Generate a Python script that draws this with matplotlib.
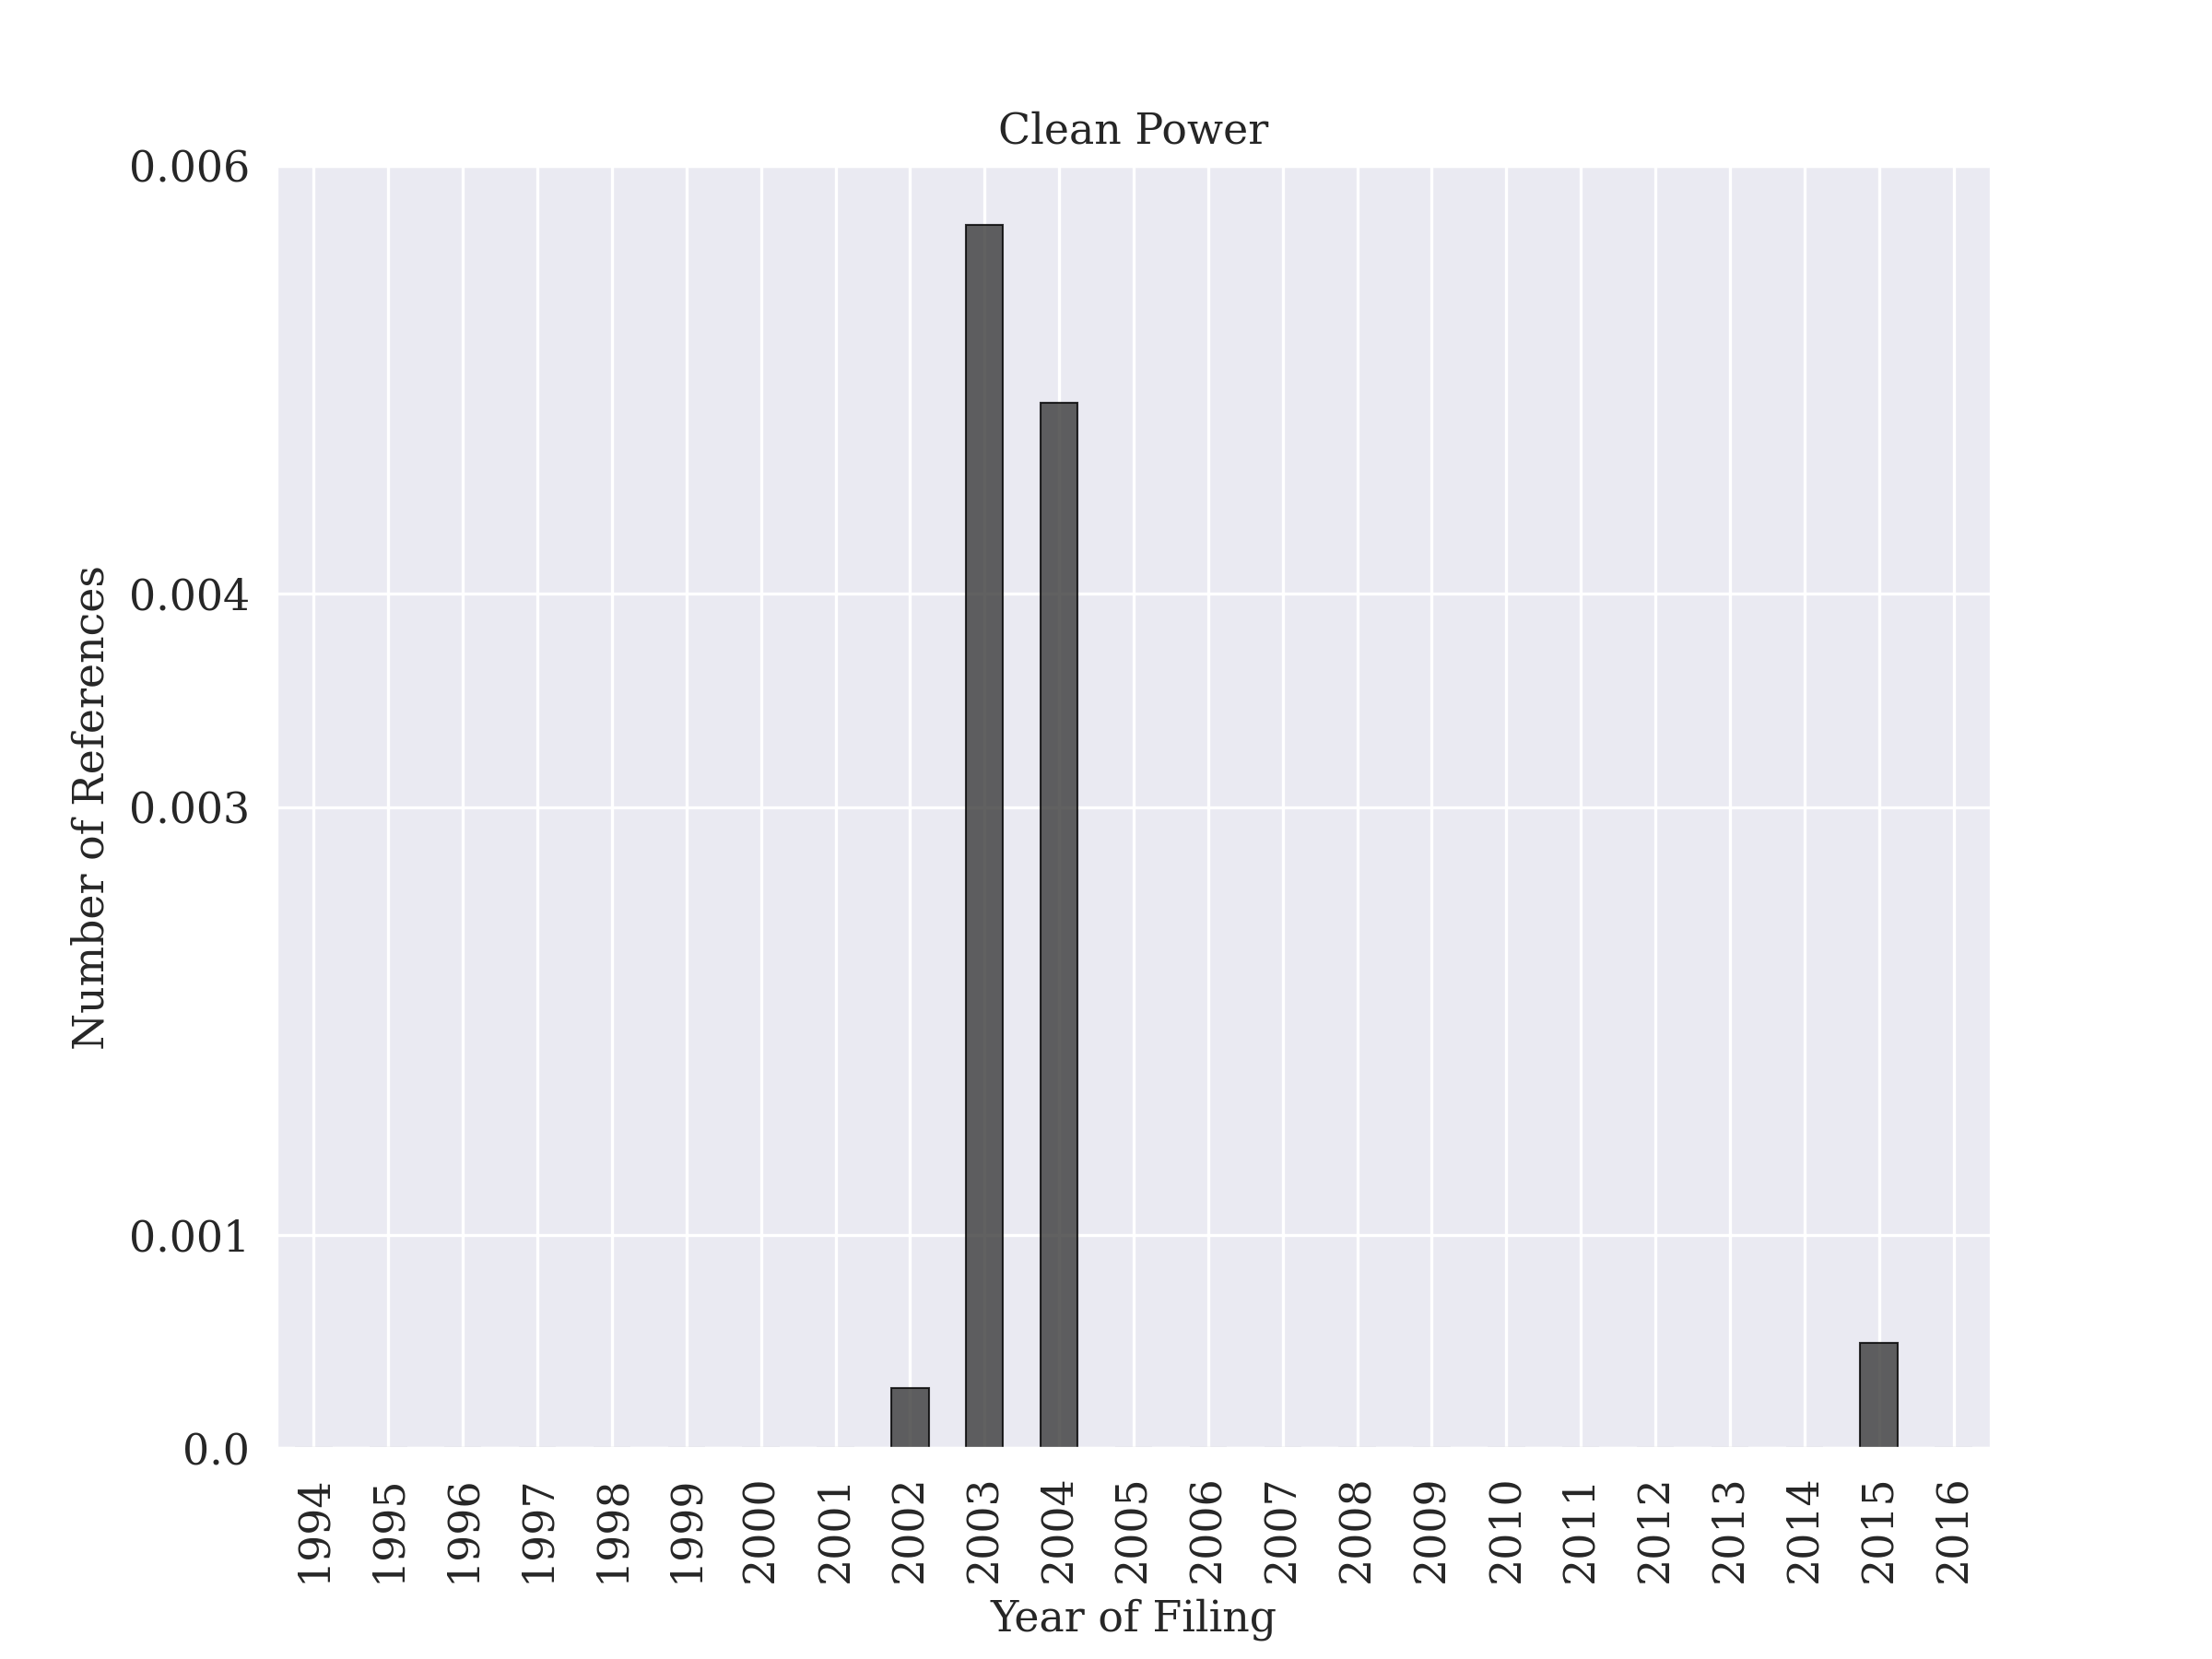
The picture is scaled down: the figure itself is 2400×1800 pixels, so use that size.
import numpy as np
import matplotlib
matplotlib.use("Agg")
import matplotlib.pyplot as plt
import seaborn as sns

years = list(range(1994, 2017))
refs = [0, 0, 0, 0, 0, 0, 0, 0, 0.000284, 0.005723, 0.004891, 0, 0, 0, 0, 0, 0, 0, 0, 0, 0, 0.000495, 0]
yticks = [0.0, 0.001, 0.003, 0.004, 0.006]
ytick_labels = ["0.0", "0.001", "0.003", "0.004", "0.006"]

sns.set_style("darkgrid")
plt.rcParams['font.family'] = ['DejaVu Serif']

fig, ax = plt.subplots(figsize=(8, 6), dpi=300)
fig.subplots_adjust(left=0.125, right=0.9, top=0.9, bottom=0.127)
x = np.arange(len(years))
ax.bar(x, refs, width=0.5, color='#3a3a3a', alpha=0.8, edgecolor='black', linewidth=0.5)
ax.set_xticks(x)
ax.set_xticklabels([str(y) for y in years], rotation=90, fontsize=11)
ax.set_xlim(-0.5, len(years) - 0.5)
ax.set_ylim(0, 0.006)
ax.set_yticks(yticks)
ax.set_yticklabels(ytick_labels, fontsize=11)
ax.set_xlabel("Year of Filing", fontsize=11)
ax.set_ylabel("Number of References", fontsize=11)
ax.set_title("Clean Power", fontsize=11)
fig.savefig("out.png")
